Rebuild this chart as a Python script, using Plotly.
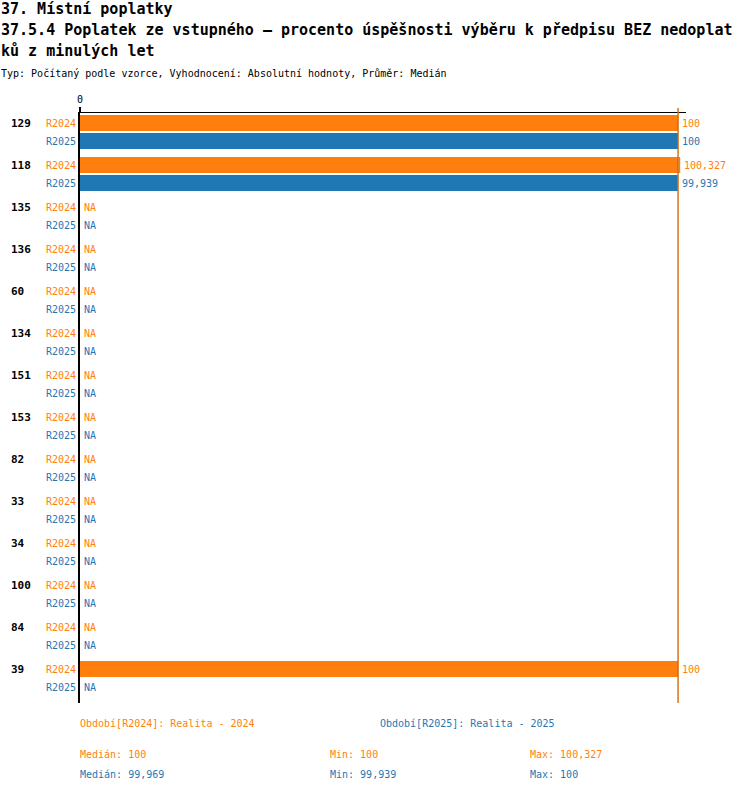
import plotly.graph_objs as go

# Data
categories = ["129", "118", "135", "136", "60", "134", "151", "153",
              "82", "33", "34", "100", "84", "39"]
r2024 = [100, 100.327, None, None, None, None, None, None,
         None, None, None, None, None, 100]
r2025 = [100, 99.939, None, None, None, None, None, None,
         None, None, None, None, None, None]
series_names = ["R2024", "R2025"]
series_labels = ["Období[R2024]: Realita - 2024", "Období[R2025]: Realita - 2025"]
# median, min, max per series
stats_2024 = [100, 100, 100.327]
stats_2025 = [99.969, 99.939, 100]

title_lines = ["37. Místní poplatky",
               "37.5.4 Poplatek ze vstupného – procento úspěšnosti výběru k předpisu BEZ nedoplat",
               "ků z minulých let"]
subtitle = "Typ: Počítaný podle vzorce, Vyhodnocení: Absolutní hodnoty, Průměr: Medián"

ORANGE = "#ff7f0e"
BLUE = "#1f77b4"
FONT = "DejaVu Sans Mono"


def fmt(v):
    s = f"{v:.3f}".rstrip("0").rstrip(".")
    return s.replace(".", ",")


# row layout: two rows per category, small gap between groups
GROUP = 2 + 1 / 3
ypos = {0: [i * GROUP for i in range(len(categories))],
        1: [i * GROUP + 1 for i in range(len(categories))]}

fig = go.Figure()
annotations = []

for j, (vals, color) in enumerate([(r2024, ORANGE), (r2025, BLUE)]):
    fig.add_trace(go.Bar(
        x=vals, y=ypos[j], orientation="h", width=16 / 18,
        marker=dict(color=color, line=dict(width=0)),
        hoverinfo="skip", showlegend=False,
    ))
    # value labels (or NA) right of the bar end
    for v, yy in zip(vals, ypos[j]):
        annotations.append(dict(
            x=v if v is not None else 0, xref="x", y=yy, yref="y",
            xshift=2, text=fmt(v) if v is not None else "NA",
            showarrow=False, xanchor="left", yanchor="middle",
            font=dict(family=FONT, size=10, color=color)))

# category labels and series labels
for i, cat in enumerate(categories):
    annotations.append(dict(
        x=0, xref="paper", xshift=-71, y=ypos[0][i], yref="y",
        text="<b>" + cat + "</b>", showarrow=False, xanchor="left",
        font=dict(family=FONT, size=11, color="black")))
    for j, color in enumerate([ORANGE, BLUE]):
        annotations.append(dict(
            x=0, xref="paper", xshift=-2, y=ypos[j][i], yref="y",
            text=series_names[j], showarrow=False, xanchor="right",
            font=dict(family=FONT, size=10, color=color)))

# titles
for line, yy in zip(title_lines, [9, 30, 51]):
    annotations.append(dict(
        x=0, xref="paper", xshift=-81, y=1, yref="paper", yshift=113 - yy,
        text="<b>" + line + "</b>", showarrow=False, xanchor="left", yanchor="middle",
        font=dict(family=FONT, size=15, color="black")))
annotations.append(dict(
    x=0, xref="paper", xshift=-81, y=1, yref="paper", yshift=113 - 73,
    text=subtitle, showarrow=False, xanchor="left", yanchor="middle",
    font=dict(family=FONT, size=10, color="black")))

# legend and stats below the plot
for label, color, xs in [(series_labels[0], ORANGE, -2), (series_labels[1], BLUE, 298)]:
    annotations.append(dict(
        x=0, xref="paper", xshift=xs, y=0, yref="paper", yshift=-20,
        text=label, showarrow=False, xanchor="left", yanchor="middle",
        font=dict(family=FONT, size=10, color=color)))
for stats, color, ys in [(stats_2024, ORANGE, -51), (stats_2025, BLUE, -71)]:
    for name, v, xs in zip(["Medián", "Min", "Max"], stats, [-2, 248, 448]):
        annotations.append(dict(
            x=0, xref="paper", xshift=xs, y=0, yref="paper", yshift=ys,
            text=f"{name}: {fmt(v)}", showarrow=False, xanchor="left", yanchor="middle",
            font=dict(family=FONT, size=10, color=color)))

# median lines
shapes = []
for med, color in [(stats_2025[0], BLUE), (stats_2024[0], ORANGE)]:
    shapes.append(dict(type="line", xref="x", yref="paper", x0=med, x1=med,
                       y0=0, y1=1 + 5 / 590, line=dict(color=color, width=1)))

fig.update_layout(
    width=750, height=792,
    margin=dict(l=80, r=64, t=113, b=89),
    plot_bgcolor="white", paper_bgcolor="white",
    barmode="overlay",
    xaxis=dict(range=[0, 101.3], side="top", showgrid=False, zeroline=False,
               showline=True, linecolor="black", linewidth=1,
               tickvals=[0], ticktext=["0"], ticks="outside", ticklen=5,
               tickwidth=2, tickcolor="black",
               tickfont=dict(family=FONT, size=10, color="black")),
    yaxis=dict(range=[(13 * GROUP + 1) + 16 / 18, -10 / 18], showgrid=False,
               zeroline=False, showline=True, linecolor="black", linewidth=2,
               showticklabels=False, ticks=""),
    annotations=annotations,
    shapes=shapes,
)

fig.write_html("out.html", config={"displayModeBar": False},
               post_script="document.body.style.margin='0';")
